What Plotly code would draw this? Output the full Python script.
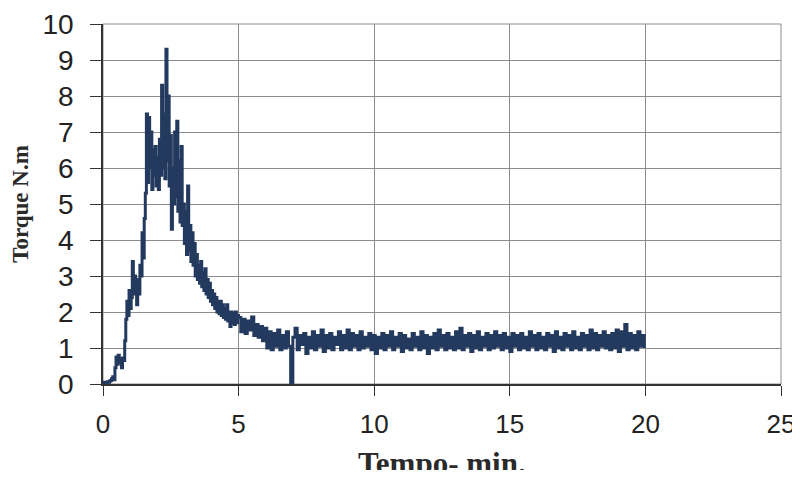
import plotly.graph_objects as go

# ---- data ----
rise_step = 0.04      # min, sampling of the first part (0 - 4.96 min)
plateau_start = 5.00  # min
plateau_step = 0.08   # min

torque_rise = [
    0.05, 0.03, 0.05, 0.04, 0.06, 0.05, 0.08,
    0.10, 0.15, 0.20, 0.12,
    0.45, 0.75, 0.55, 0.80, 0.60, 0.70, 0.45, 0.72, 0.65,
    1.2, 1.8, 2.3, 1.9, 2.6, 2.1, 2.4,
    3.4, 2.5, 3.0, 2.6, 2.2, 2.9, 2.5, 3.3, 3.0, 4.2,
    3.5, 4.6, 5.3, 7.5, 5.6, 7.4, 6.0, 7.0, 5.4, 6.5,
    5.8, 6.6, 5.5, 6.3, 5.4, 6.8, 5.8, 8.3, 6.0, 7.5,
    5.7, 9.3, 6.2, 8.0, 5.5, 6.9, 4.3, 6.0, 5.0, 7.0,
    5.2, 7.3, 4.8, 6.2, 4.5, 6.6, 4.4, 5.0, 3.9, 4.8,
    3.6, 5.5, 3.7, 4.4, 3.4, 4.2, 3.3, 3.9, 3.0, 3.6,
    2.9, 3.3, 2.8, 3.4, 2.7, 3.1, 2.6, 3.2, 2.5, 2.9,
    2.4, 2.8, 2.3, 2.6, 2.2, 2.5, 2.1, 2.4, 2.0, 2.3,
    1.95, 2.3, 1.9, 2.2, 1.85, 2.1, 1.8, 2.2, 1.75, 2.0,
    1.6, 2.0, 1.7, 1.95, 1.65, 2.0, 1.7, 1.9,
]

torque_plateau = [
    1.85, 1.45, 1.80, 1.40, 1.75, 1.50, 1.86, 1.35, 1.65, 1.30,
    1.60, 1.20, 1.55, 1.00, 1.45, 0.95, 1.40, 1.05, 1.50, 0.95,
    1.35, 1.00, 1.45, 1.05, 0.00, 1.30, 1.55, 0.95, 1.35, 1.10,
    1.40, 0.85, 1.30, 1.00, 1.45, 0.95, 1.35, 1.05, 1.50, 0.90,
    1.35, 1.00, 1.40, 0.95, 1.30, 1.10, 1.45, 0.95, 1.35, 1.00,
    1.50, 0.95, 1.40, 1.05, 1.35, 0.95, 1.45, 1.00, 1.30, 1.05,
    1.40, 0.95, 1.35, 0.85, 1.30, 1.00, 1.40, 0.95, 1.35, 1.05,
    1.45, 0.95, 1.30, 1.05, 1.40, 0.90, 1.35, 1.00, 1.25, 0.95,
    1.40, 1.05, 1.30, 0.95, 1.45, 1.00, 1.35, 0.85, 1.30, 1.00,
    1.40, 0.95, 1.50, 1.05, 1.35, 0.95, 1.40, 1.00, 1.30, 0.95,
    1.45, 1.00, 1.55, 0.95, 1.35, 1.05, 1.40, 0.90, 1.35, 1.00,
    1.45, 0.95, 1.30, 1.05, 1.40, 0.95, 1.35, 1.00, 1.45, 1.05,
    1.35, 0.95, 1.40, 1.00, 1.30, 0.90, 1.40, 1.05, 1.35, 0.95,
    1.40, 1.00, 1.30, 0.95, 1.45, 1.05, 1.35, 0.95, 1.40, 1.00,
    1.30, 0.95, 1.40, 1.05, 1.35, 0.90, 1.45, 1.00, 1.30, 0.95,
    1.40, 1.05, 1.35, 0.95, 1.45, 1.00, 1.30, 0.95, 1.40, 1.05,
    1.35, 0.95, 1.50, 1.00, 1.40, 0.95, 1.35, 1.05, 1.45, 1.00,
    1.35, 0.95, 1.40, 1.00, 1.50, 0.90, 1.45, 1.05, 1.65, 0.95,
    1.40, 1.00, 1.35, 0.95, 1.45, 1.05, 1.35, 1.00,
]

x_ticks = [0, 5, 10, 15, 20, 25]
y_ticks = [0, 1, 2, 3, 4, 5, 6, 7, 8, 9, 10]
x_title = "Tempo- min."
y_title = "Torque N.m"

t_rise = [round(i * rise_step, 2) for i in range(len(torque_rise))]
t_plateau = [round(plateau_start + i * plateau_step, 2) for i in range(len(torque_plateau))]
time = t_rise + t_plateau
torque = torque_rise + torque_plateau

fig = go.Figure()
fig.add_trace(go.Scatter(
    x=time, y=torque, mode="lines",
    line=dict(color="#233a5e", width=3, shape="hv"),
    showlegend=False,
))

grid_col = "#8c8c8c"
# page body has an 8px margin, so the figure is sized/shifted to compensate
fig.update_layout(
    width=792, height=462,
    margin=dict(l=95, r=19, t=16, b=86),
    paper_bgcolor="white", plot_bgcolor="white",
    font=dict(family="Liberation Sans, Arial", color="#222222"),
)
fig.update_xaxes(
    range=[0, 25], tickvals=x_ticks, ticktext=[str(v) for v in x_ticks],
    automargin=False, ticklabeloverflow="allow", ticklabelstandoff=6,
    showgrid=True, gridcolor=grid_col, gridwidth=1,
    showline=True, linecolor="#333333", linewidth=1.5,
    ticks="outside", ticklen=10, tickcolor="#333333",
    tickfont=dict(size=26, family="Liberation Sans, Arial", color="#222222"),
    zeroline=False,
)
fig.update_yaxes(
    range=[0, 10], tickvals=y_ticks, ticktext=[str(v) for v in y_ticks],
    automargin=False, ticklabeloverflow="allow", ticklabelstandoff=11,
    showgrid=True, gridcolor=grid_col, gridwidth=1,
    showline=True, linecolor="#333333", linewidth=1.5,
    ticks="outside", ticklen=11, tickcolor="#333333",
    tickfont=dict(size=28, family="Liberation Sans, Arial", color="#222222"),
    zeroline=False,
    title=dict(text="<b>" + y_title + "</b>",
               font=dict(size=23, family="Liberation Serif, Times New Roman", color="#2a2a2a"),
               standoff=7),
)
# x-axis title placed as an annotation below the tick labels
fig.add_annotation(
    text="<b>" + x_title + "</b>", xref="paper", yref="paper",
    x=0.5, y=-0.22, xanchor="center", yanchor="middle", showarrow=False,
    font=dict(size=31, family="Liberation Serif, Times New Roman", color="#2a2a2a"),
)
# top and right frame lines
fig.add_shape(type="rect", xref="paper", yref="paper", x0=0, y0=0, x1=1, y1=1,
              line=dict(color=grid_col, width=1), layer="below")

fig.write_html("out.html")
